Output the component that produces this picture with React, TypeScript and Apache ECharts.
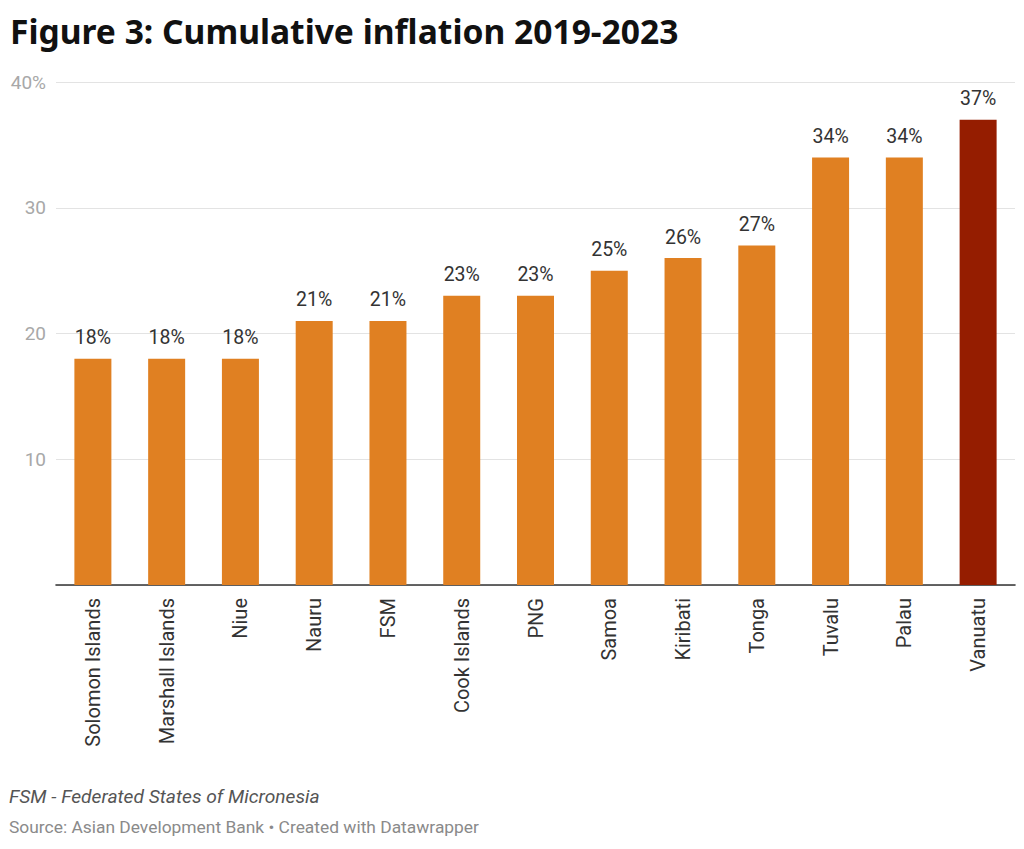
import React, { useEffect, useRef } from "react";
import * as echarts from "echarts";

const categories = [
  "Solomon Islands",
  "Marshall Islands",
  "Niue",
  "Nauru",
  "FSM",
  "Cook Islands",
  "PNG",
  "Samoa",
  "Kiribati",
  "Tonga",
  "Tuvalu",
  "Palau",
  "Vanuatu",
];
const values = [18, 18, 18, 21, 21, 23, 23, 25, 26, 27, 34, 34, 37];
const highlighted = ["Vanuatu"];
const yTicks = [0, 10, 20, 30, 40];

const title = "Figure 3: Cumulative inflation 2019-2023";
const note = "FSM - Federated States of Micronesia";
const source = "Source: Asian Development Bank • Created with Datawrapper";

const ORANGE = "#e08022";
const DARKRED = "#951d00";

export default function App() {
  const ref = useRef<HTMLDivElement>(null);
  useEffect(() => {
    if (!ref.current) return;
    const chart = echarts.init(ref.current, undefined, { renderer: "svg" });
    chart.setOption({
      animation: false,
      backgroundColor: "#ffffff",
      textStyle: { fontFamily: "Roboto" },
      grid: { left: 56, right: 9, top: 82, bottom: 264, containLabel: false },
      xAxis: {
        type: "category",
        data: categories,
        axisTick: { show: false },
        axisLine: { lineStyle: { color: "#333333", width: 1.6 } },
        axisLabel: {
          rotate: 90,
          color: "#333333",
          fontSize: 20,
          fontFamily: "Roboto",
          margin: 13,
          interval: 0,
        },
      },
      yAxis: {
        type: "value",
        min: yTicks[0],
        max: yTicks[yTicks.length - 1],
        interval: 10,
        axisLine: { show: false },
        axisTick: { show: false },
        splitLine: { lineStyle: { color: "#e3e3e3", width: 1.2 } },
        axisLabel: {
          color: "#a8a8a8",
          fontSize: 19,
          fontFamily: "Roboto",
          margin: 10,
          formatter: (v: number) =>
            v === 0 ? "" : v === yTicks[yTicks.length - 1] ? `${v}%` : `${v}`,
        },
      },
      series: [
        {
          type: "bar",
          barWidth: 37,
          data: values.map((v, i) => ({
            value: v,
            itemStyle: {
              color: highlighted.includes(categories[i]) ? DARKRED : ORANGE,
            },
          })),
          label: {
            show: true,
            position: "top",
            distance: 11,
            color: "#333333",
            fontSize: 19.5,
            fontFamily: "Roboto",
            formatter: (p: any) => `${p.value}%`,
          },
        },
      ],
      graphic: [
        {
          type: "text",
          left: 10,
          top: 14,
          style: {
            text: title,
            fill: "#111111",
            font: "bold 33.6px 'Noto Sans'",
          },
        },
        {
          type: "text",
          left: 9,
          top: 787,
          style: {
            text: note,
            fill: "#555555",
            font: "italic 19.2px Roboto",
          },
        },
        {
          type: "text",
          left: 9,
          top: 818,
          style: {
            text: source,
            fill: "#8a8a8a",
            font: "17.4px Roboto",
          },
        },
      ],
    });
    return () => chart.dispose();
  }, []);
  return (
    <div
      ref={ref}
      style={{ position: "absolute", left: 0, top: 0, width: 1024, height: 849 }}
    />
  );
}
